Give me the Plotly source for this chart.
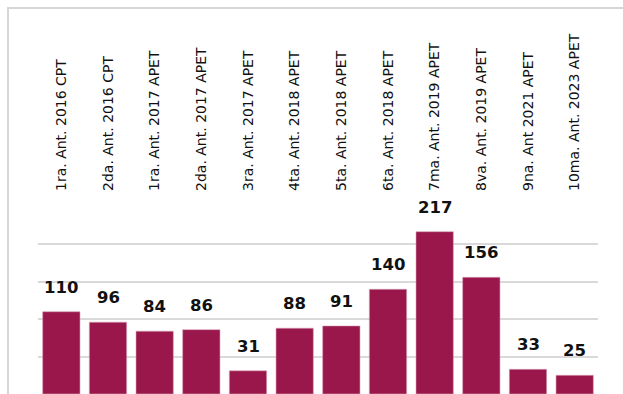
import plotly.graph_objects as go

# datos
categorias = [
    "1ra. Ant. 2016 CPT", "2da. Ant. 2016 CPT", "1ra. Ant. 2017 APET",
    "2da. Ant. 2017 APET", "3ra. Ant. 2017 APET", "4ta. Ant. 2018 APET",
    "5ta. Ant. 2018 APET", "6ta. Ant. 2018 APET", "7ma. Ant. 2019 APET",
    "8va. Ant. 2019 APET", "9na. Ant 2021 APET", "10ma. Ant. 2023 APET",
]
valores = [110, 96, 84, 86, 31, 88, 91, 140, 217, 156, 33, 25]

granate = "#99174A"

fig = go.Figure(go.Bar(
    x=categorias,
    y=valores,
    marker=dict(color=granate, line=dict(color="#d9a3b8", width=0.6)),
    hoverinfo="x+y",
))

# etiquetas de valor sobre cada barra
for c, v in zip(categorias, valores):
    fig.add_annotation(
        x=c, y=v, text=f"<b>{v}</b>", showarrow=False,
        yanchor="bottom", yshift=13,
        font=dict(family="DejaVu Sans", size=16.5, color="#111111"),
    )

# marco gris claro (izquierda y arriba)
fig.add_shape(type="rect", xref="paper", yref="paper",
              x0=-0.0536, x1=1.2, y0=-0.2, y1=2.064,
              line=dict(color="#d6d6d6", width=2), layer="below")

fig.update_layout(
    width=623, height=394,
    margin=dict(l=38, r=25, t=207, b=0),
    paper_bgcolor="white", plot_bgcolor="white",
    bargap=0.2,
    showlegend=False,
    font=dict(family="DejaVu Sans", color="#111111"),
    xaxis=dict(
        side="top", tickangle=-90, ticklabelstandoff=15, automargin=False,
        tickfont=dict(family="DejaVu Sans", size=14, color="#111111"),
        showgrid=False, showline=False, ticks="",
    ),
    yaxis=dict(
        range=[0, 250], dtick=50, showticklabels=False, automargin=False,
        showgrid=True, gridcolor="#d9d9d9", gridwidth=1.5,
        zeroline=False, showline=False, ticks="",
    ),
)

fig.write_html("out.html", config={"displayModeBar": False},
               post_script="document.body.style.margin='0';")
